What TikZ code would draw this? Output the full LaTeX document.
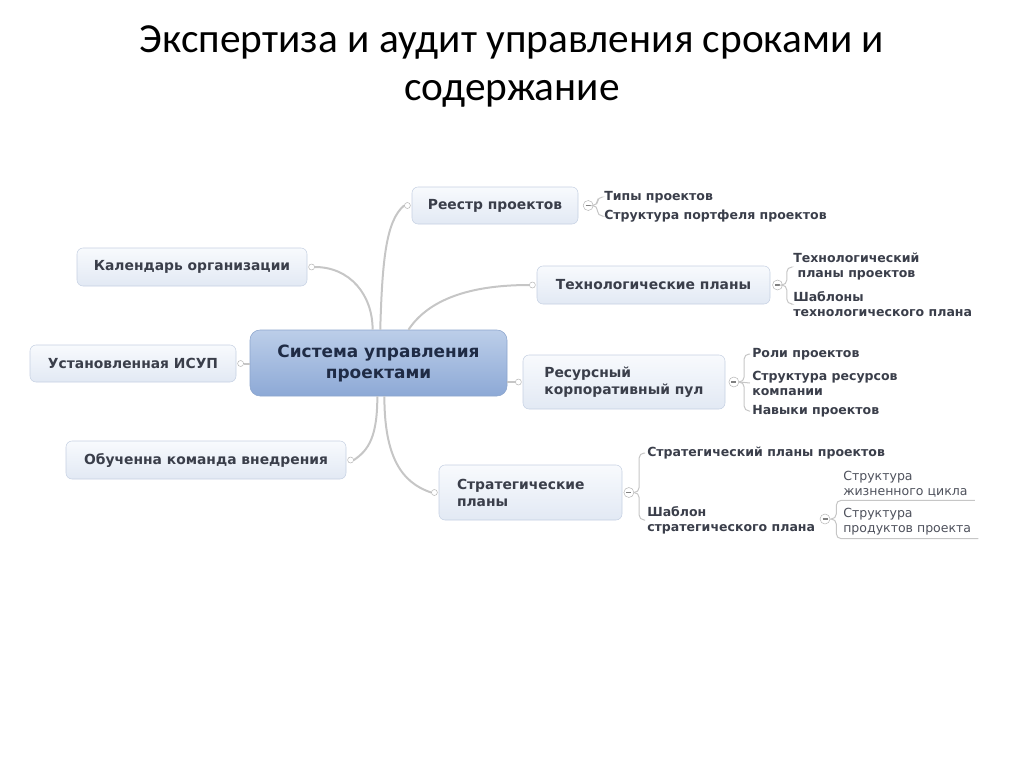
\documentclass[tikz,border=0pt]{standalone}
\usepackage{fontspec}
\setmainfont{DejaVu Sans}
\newfontfamily\titlefont{Carlito}
\usepackage{tikz}
\usetikzlibrary{positioning}
\definecolor{linkgray}{HTML}{C6C6C6}
\definecolor{boxline}{HTML}{C5D0E2}
\definecolor{boxtop}{HTML}{F8FAFD}
\definecolor{boxbot}{HTML}{E2E9F4}
\definecolor{coretop}{HTML}{BCCEE9}
\definecolor{corebot}{HTML}{8DA9D6}
\definecolor{coreline}{HTML}{8CA5CD}
\definecolor{textdark}{HTML}{3A3E4A}
\definecolor{coretext}{HTML}{1F2B45}
\newdimen\pxu \pxu=0.75pt

\begin{document}
\begin{tikzpicture}[
    x=0.75pt, y=-0.75pt,
    heading/.style={font=\titlefont\fontsize{31}{36}\selectfont, align=center},
    core/.style={rectangle, draw=coreline, top color=coretop, bottom color=corebot,
                 rounded corners=10\pxu, minimum width=257\pxu, minimum height=66\pxu,
                 align=center, text=coretext,
                 font=\bfseries\fontsize{12.7}{15.75}\selectfont},
    topic/.style={rectangle, draw=boxline, top color=boxtop, bottom color=boxbot,
                  rounded corners=6\pxu, align=center, text=textdark,
                  font=\bfseries\fontsize{10.4}{12.75}\selectfont},
    leaf/.style={anchor=west, align=left, inner xsep=2\pxu, inner ysep=1\pxu,
                 text=textdark, font=\bfseries\fontsize{9.4}{11.25}\selectfont},
    subleaf/.style={anchor=west, align=left, inner xsep=7\pxu, inner ysep=3\pxu,
                    text=textdark!90, font=\fontsize{9.4}{11.25}\selectfont},
    dot/.style={circle, draw=gray!55, fill=white, minimum size=6\pxu, inner sep=0pt},
    toggle/.style={circle, draw=gray!55, fill=white, minimum size=10\pxu, inner sep=0pt,
                   path picture={\draw[gray, line width=0.8pt]
                     ([xshift=-2.5\pxu]path picture bounding box.center) --
                     ([xshift=2.5\pxu]path picture bounding box.center);}},
    link/.style={draw=linkgray, line width=2\pxu},
    bracket/.style={draw=linkgray, line width=1\pxu, rounded corners=5\pxu},
  ]
  \useasboundingbox (0,0) rectangle (1024,767);

  \node[heading] (title) at (512,66)
    {Экспертиза и аудит управления сроками и\\содержание};

  % Centre
  \node[core] (sys) at (378.5,363) {Система управления\\проектами};

  % Left side
  \node[topic, minimum width=230\pxu, minimum height=38\pxu] (cal) at (192,267) {Календарь организации};
  \node[topic, minimum width=206\pxu, minimum height=37\pxu] (isup) at (133,363.5) {Установленная ИСУП};
  \node[topic, minimum width=280\pxu, minimum height=38\pxu] (team) at (206,460) {Обученна команда внедрения};

  \node[dot, right=0.8pt of cal] (caldot) {};
  \node[dot, right=0.8pt of isup] (isupdot) {};
  \node[dot, right=0.8pt of team] (teamdot) {};

  % Right side
  \node[topic, minimum width=166\pxu, minimum height=37\pxu] (reg) at (495,205.5) {Реестр проектов};
  \node[topic, minimum width=233\pxu, minimum height=38\pxu] (tech) at (653.5,285) {Технологические планы};
  \node[topic, minimum width=202\pxu, minimum height=54\pxu, align=left] (res) at (624,382)
    {Ресурсный\\корпоративный пул};
  \node[topic, minimum width=183\pxu, minimum height=55\pxu, align=left,
        text width=147\pxu] (strat) at (530.5,492.5) {Стратегические\\планы};

  \node[dot, left=0.8pt of reg] (regdot) {};
  \node[dot, left=0.8pt of tech] (techdot) {};
  \node[dot, left=0.8pt of res] (resdot) {};
  \node[dot, left=0.8pt of strat] (stratdot) {};

  \node[toggle, right=3.5pt of reg] (regt) {};
  \node[toggle, right=1.5pt of tech] (techt) {};
  \node[toggle, right=2.5pt of res] (rest) {};
  \node[toggle, right=1pt of strat] (stratt) {};

  % Leaves
  \node[leaf] (types) at (602,197) {Типы проектов};
  \node[leaf] (portf) at (602,216) {Структура портфеля проектов};

  \node[leaf] (techpl) at (791,267) {Технологический\\\hspace*{0.35em}планы проектов};
  \node[leaf] (techtpl) at (791,304) {Шаблоны\\технологического плана};

  \node[leaf] (roles) at (750,354) {Роли проектов};
  \node[leaf] (resstr) at (750,383) {Структура ресурсов\\компании};
  \node[leaf] (skills) at (750,411) {Навыки проектов};

  \node[leaf] (strpl) at (645,453) {Стратегический планы проектов};
  \node[leaf] (strtpl) at (645,520) {Шаблон\\стратегического плана};
  \node[toggle] (strtplt) at (825,519) {};

  \node[subleaf] (life) at (836,484) {Структура\\жизненного цикла};
  \node[subleaf] (prod) at (836,522) {Структура\\продуктов проекта};

  % Links from the centre
  \draw[link] (sys.100) .. controls +(0,-35) and +(35,0) .. (caldot.east);
  \draw[link] (isupdot) -- (isupdot -| sys.west);
  \draw[link] (sys.-92) .. controls +(0,40) and +(15,-10) .. (teamdot.east);
  \draw[link] (sys.87) .. controls +(2,-70) and +(-18,15) .. (regdot.west);
  \draw[link] (sys.48) .. controls +(20,-30) and +(-60,0) .. (techdot.west);
  \draw[link] (sys.east |- resdot) -- (resdot);
  \draw[link] (sys.-80) .. controls +(0,60) and +(-30,-10) .. (stratdot.west);

  % Brackets
  \draw[bracket] (regt.east) -- ++(4,0) |- (types.west);
  \draw[bracket] (regt.east) -- ++(4,0) |- (portf.west);
  \draw[bracket] (techt.east) -- ++(4,0) |- (techpl.west);
  \draw[bracket] (techt.east) -- ++(4,0) |- (techtpl.west);
  \draw[bracket] (rest.east) -- ++(5,0) |- (roles.west);
  \draw[bracket] (rest.east) -- (resstr.west);
  \draw[bracket] (rest.east) -- ++(5,0) |- (skills.west);
  \draw[bracket] (stratt.east) -- ++(5,0) |- (strpl.west);
  \draw[bracket] (stratt.east) -- ++(5,0) |- (strtpl.west);
  \draw[bracket] (strtplt.east) -- ++(6,0) |- (life.south east);
  \draw[bracket] (strtplt.east) -- ++(6,0) |- (prod.south east);

\end{tikzpicture}
\end{document}
